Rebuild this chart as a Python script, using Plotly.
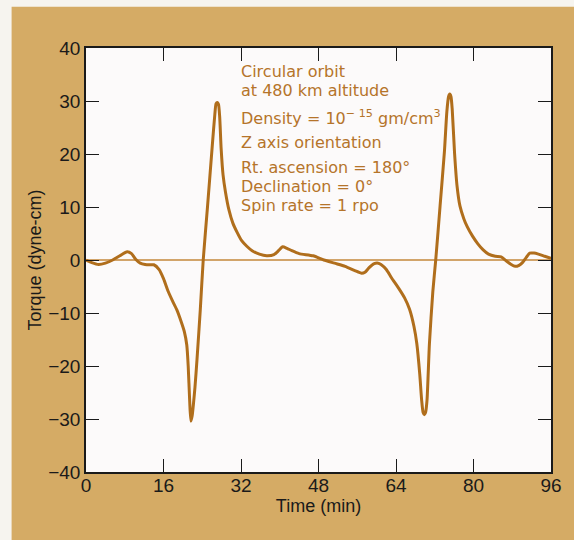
import plotly.graph_objects as go

# Time (min) and torque (dyne-cm)
time_min = [0, 1.2, 2.6, 4.0, 5.5, 7.0, 8.5, 9.4, 10.3, 11.2, 12.2, 13.2, 14.0, 15.1, 16.0, 17.0,
            18.0, 18.8, 19.6, 20.3, 20.8, 21.1, 21.4, 21.65, 21.9, 22.2, 22.5, 22.9, 23.6, 24.2,
            25.1, 26.1, 26.6, 26.85, 27.1, 27.35, 27.6, 27.9, 28.3, 28.8, 29.5, 30.3, 31.2, 32.1,
            33.2, 34.3, 35.8, 37.3, 38.8, 39.8, 40.6, 41.5, 42.5, 44.0, 46.9, 49.1, 51.3, 53.5,
            55.5, 56.9, 57.6, 58.4, 59.5, 60.3, 60.9, 62.0, 63.1, 64.6, 65.8, 66.8, 67.7, 68.3,
            68.9, 69.3, 69.6, 69.85, 70.1, 70.4, 70.9, 71.6, 72.2, 73.1, 74.0, 74.5, 74.85, 75.1,
            75.35, 75.6, 76.1, 76.6, 77.2, 78.0, 78.7, 79.8, 80.9, 82.0, 83.1, 84.5, 85.7, 86.8,
            87.7, 88.6, 89.4, 90.1, 90.9, 91.6, 92.5, 93.4, 94.7, 96.0]
torque = [0.0, -0.5, -0.85, -0.6, 0.0, 0.8, 1.55, 1.2, 0.1, -0.6, -0.85, -0.9, -0.9, -1.8, -3.5, -6.0,
          -8.0, -9.5, -11.5, -13.5, -16.0, -20.0, -26.5, -30.4, -29.5, -27.0, -24.0, -19.0, -9.3, 0.0,
          10.2, 21.9, 27.5, 29.5, 29.7, 29.4, 27.0, 21.0, 16.0, 12.8, 9.5, 7.0, 5.2, 3.7,
          2.6, 1.75, 1.1, 0.8, 1.0, 1.8, 2.5, 2.2, 1.75, 1.2, 0.8, 0.0, -0.6, -1.2,
          -2.0, -2.5, -2.3, -1.5, -0.7, -0.6, -0.85, -1.8, -3.4, -5.4, -7.2, -9.3, -12.5, -15.8,
          -21.5, -26.5, -28.8, -29.2, -28.8, -26.5, -15.8, -6.0, 0.0, 10.2, 20.5, 28.0, 30.8, 31.3,
          30.8, 28.5, 20.0, 14.0, 10.2, 7.8, 6.3, 4.5, 3.05, 1.9, 1.1, 0.7, 0.6, -0.2,
          -0.8, -1.2, -1.0, -0.5, 0.5, 1.3, 1.3, 1.1, 0.7, 0.3]

x_ticks = [0, 16, 32, 48, 64, 80, 96]
y_ticks = [40, 30, 20, 10, 0, -10, -20, -30, -40]

info_lines = [
    (35.6, "Circular orbit"),
    (31.9, "at 480 km altitude"),
    (26.9, "Density = 10<sup>\u2212 15</sup> gm/cm<sup>3</sup>"),
    (22.1, "Z axis orientation"),
    (17.4, "Rt. ascension = 180\u00b0"),
    (13.8, "Declination = 0\u00b0"),
    (10.2, "Spin rate = 1 rpo"),
]

curve_color = "#B06E1C"
text_color = "#B5742A"
tan = "#D5AB65"
font_family = "Liberation Sans, Arial, Helvetica, sans-serif"
note_family = "DejaVu Sans, Liberation Sans, Arial, sans-serif"

fig = go.Figure()
fig.add_trace(go.Scatter(
    x=[0, 96], y=[0, 0], mode="lines",
    line=dict(color="#C4873A", width=1.3), hoverinfo="skip", showlegend=False))
fig.add_trace(go.Scatter(
    x=time_min, y=torque, mode="lines",
    line=dict(color=curve_color, width=3, shape="spline", smoothing=0.6),
    showlegend=False))

for yv, txt in info_lines:
    fig.add_annotation(x=31.6, y=yv, xref="x", yref="y", text=txt, showarrow=False,
                       xanchor="left", yanchor="middle",
                       font=dict(family=note_family, size=16, color=text_color))

# light strips at the left and top edge of the page outside the tan panel
fig.add_shape(type="rect", xref="paper", yref="paper", x0=-0.2, x1=-0.16, y0=-0.2, y1=1.2,
              fillcolor="#F6F4EF", line=dict(width=0), layer="below")
fig.add_shape(type="rect", xref="paper", yref="paper", x0=-0.2, x1=1.1, y0=1.097, y1=1.2,
              fillcolor="#F6F4EF", line=dict(width=0), layer="below")

axis_common = dict(showgrid=False, zeroline=False, showline=True, linecolor="#1a1a1a",
                   linewidth=1.5, mirror="ticks", ticks="inside", ticklen=13, tickwidth=1.3,
                   tickcolor="#1a1a1a",
                   tickfont=dict(family=font_family, size=19, color="#1a1a1a"))

fig.update_xaxes(range=[0, 96], tickvals=x_ticks, ticktext=[str(v) for v in x_ticks],
                 ticklabelstandoff=-5,
                 title=dict(text="Time (min)", standoff=0,
                            font=dict(family=font_family, size=18, color="#1a1a1a")),
                 **axis_common)
fig.update_yaxes(range=[-40, 40], tickvals=y_ticks,
                 title=dict(text="Torque (dyne-cm)", standoff=2,
                            font=dict(family=font_family, size=18, color="#1a1a1a")),
                 **axis_common)

fig.update_layout(width=574, height=540, margin=dict(l=86, r=12, t=48, b=68),
                  paper_bgcolor=tan, plot_bgcolor="#FCFAFA")

fig.write_html("out.html", config={"displayModeBar": False},
               post_script="document.body.style.margin='0';")
